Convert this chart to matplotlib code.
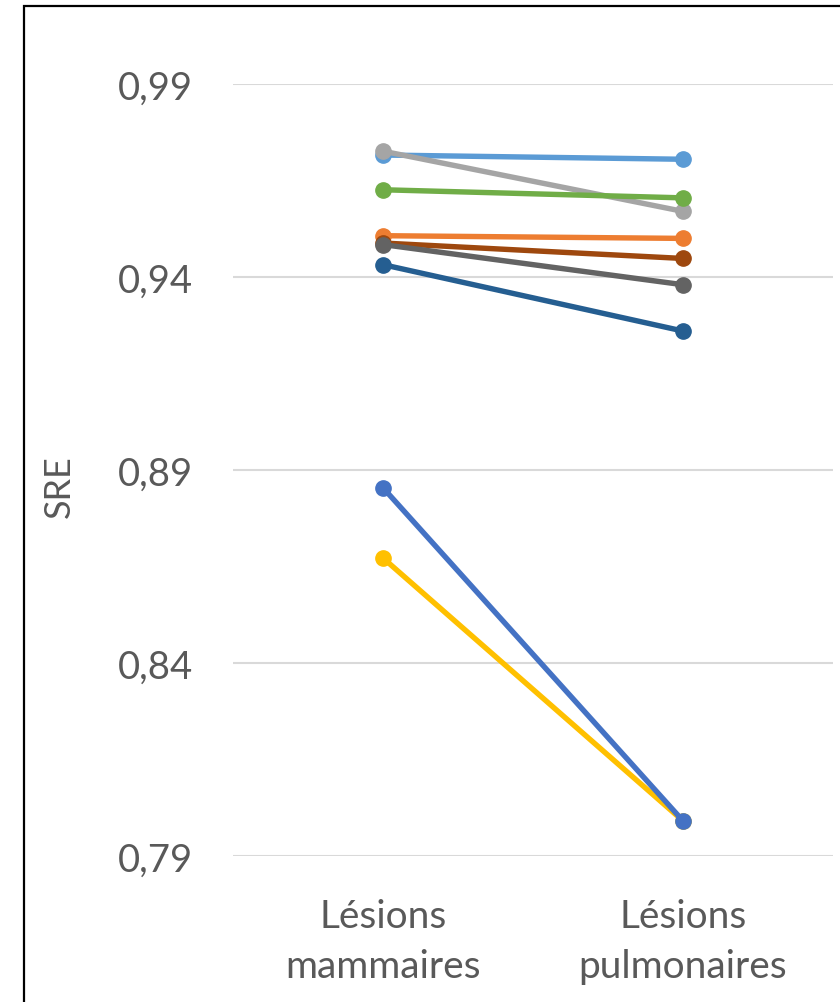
import matplotlib.pyplot as plt
from matplotlib.patches import Rectangle

plt.rcParams['font.family'] = ['Lato', 'DejaVu Sans']

categories = ["Lésions\nmammaires", "Lésions\npulmonaires"]
yticks = [0.79, 0.84, 0.89, 0.94, 0.99]

# SRE per patient, breast lesion vs lung lesion
s_yellow = [0.8672, 0.7991]
s_blue = [0.8854, 0.7991]
s_lightblue = [0.9716, 0.9705]
s_gray = [0.9726, 0.9570]
s_green = [0.9626, 0.9605]
s_orange = [0.9507, 0.9500]
s_brown = [0.9488, 0.9448]
s_darkgray = [0.9484, 0.9380]
s_darkblue = [0.9432, 0.9260]

series = [
    (s_yellow, "#FFC000"),
    (s_blue, "#4472C4"),
    (s_lightblue, "#5B9BD5"),
    (s_gray, "#A5A5A5"),
    (s_green, "#70AD47"),
    (s_orange, "#ED7D31"),
    (s_brown, "#9E480E"),
    (s_darkgray, "#636363"),
    (s_darkblue, "#255E91"),
]

fig = plt.figure(figsize=(8.4, 10.03), dpi=100)
ax = fig.add_axes([233/840, 1 - 857/1003, 600/840, 772/1003])

x = [0, 1]
for i, (vals, col) in enumerate(series):
    ax.plot(x, vals, color=col, lw=3.9, marker='o', ms=11,
            solid_capstyle='round', zorder=3 + i)

ax.set_xlim(-0.5, 1.5)
ax.set_ylim(0.79, 0.99)
ax.set_yticks(yticks)
ax.set_yticklabels([f"{v:.2f}".replace('.', ',') for v in yticks])
ax.set_xticks(x)
ax.set_xticklabels(categories, linespacing=1.5)
ax.yaxis.grid(True, color="#D9D9D9", lw=1.5, zorder=0)
ax.xaxis.grid(False)
for s in ax.spines.values():
    s.set_visible(False)
ax.tick_params(axis='y', length=0, pad=29, labelsize=27.5, labelcolor="#595959")
ax.tick_params(axis='x', length=0, pad=30, labelsize=28, labelcolor="#595959")
ax.set_ylabel("SRE", fontsize=26, color="#595959")
ax.yaxis.set_label_coords(-(233 - 76) / 600, (857 - 487) / 772)

# chart border, clipped by the figure on the right and bottom
fig.patches.append(Rectangle((23.5 / 840, -0.1), 1.2, 1.1 - 6.5 / 1003,
                             transform=fig.transFigure, fill=False,
                             edgecolor="black", lw=1.6))

fig.savefig("out.png", dpi=100)
